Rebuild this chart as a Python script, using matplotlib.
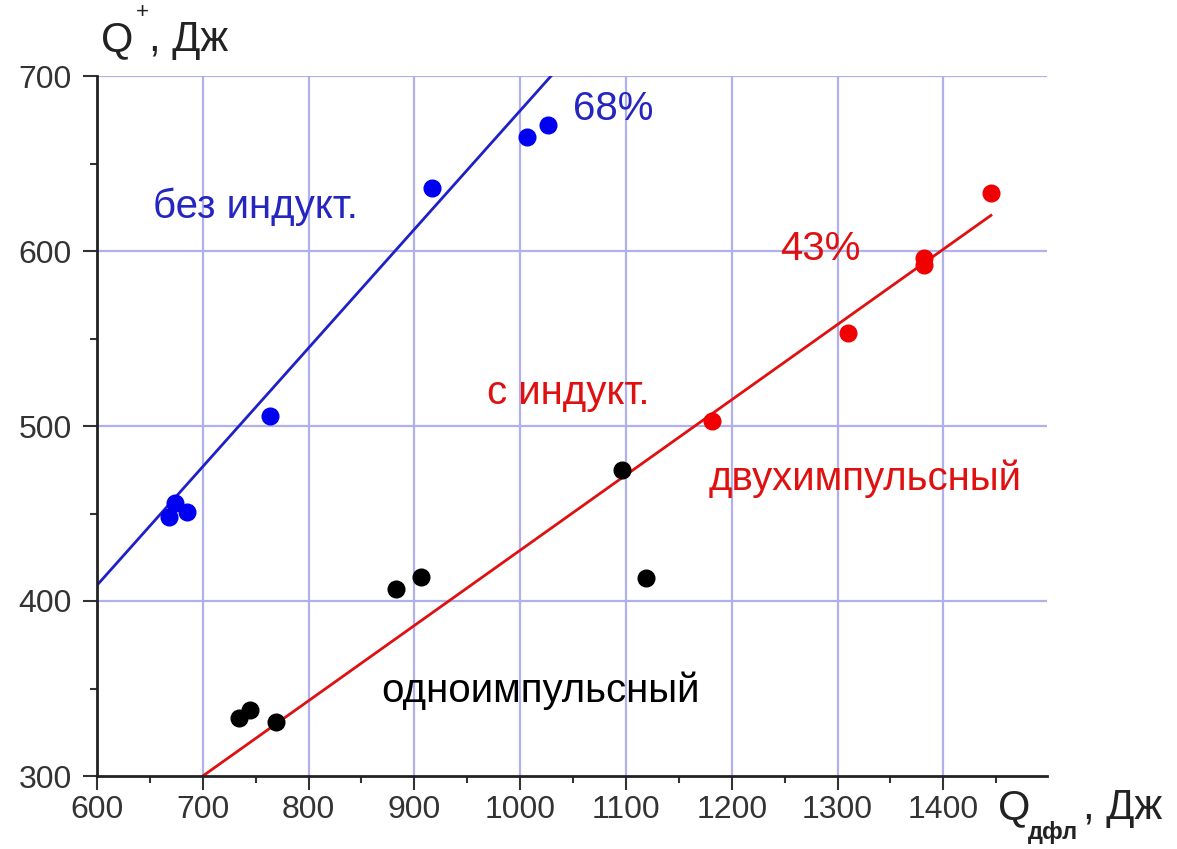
import numpy as np
import matplotlib
matplotlib.use("Agg")
import matplotlib.pyplot as plt
from matplotlib.ticker import MultipleLocator

plt.rcParams['font.family'] = ['Liberation Sans', 'DejaVu Sans']

# data
blue_x = [668, 674, 685, 764, 917, 1006, 1026]
blue_y = [448, 456, 451, 506, 636, 665, 672]
red_x = [1181, 1310, 1382, 1382, 1445]
red_y = [503, 553, 596, 592, 633]
black_x = [734, 745, 769, 883, 906, 1096, 1119]
black_y = [333, 338, 331, 407, 414, 475, 413]

# fitted lines: x range, start y, slope
blue_fit_x = [600, 1029]
blue_fit = (409, 0.678)
red_fit_x = [700, 1445]
red_fit = (300, 0.43)

W, H = 1177, 849
fig = plt.figure(figsize=(W / 100, H / 100), dpi=100)
ax = fig.add_axes([97 / W, 1 - 776 / H, 950 / W, 700 / H])


def px(x, y):
    # figure fraction from pixel position
    return x / W, 1 - y / H


grid_c = "#b0b0ec"
for v in [700, 800, 900, 1000, 1100, 1200, 1300, 1400]:
    ax.axvline(v, color=grid_c, lw=1.6, zorder=0)
for v in [400, 500, 600, 700]:
    ax.axhline(v, color=grid_c, lw=1.6, zorder=0)

bx = np.array(blue_fit_x)
ax.plot(bx, blue_fit[0] + blue_fit[1] * (bx - bx[0]), color="#2020c8", lw=2, zorder=2)
rx = np.array(red_fit_x)
ax.plot(rx, red_fit[0] + red_fit[1] * (rx - rx[0]), color="#e01010", lw=2, zorder=2)

ax.plot(blue_x, blue_y, "o", color="#0000f0", ms=12, zorder=3)
ax.plot(red_x, red_y, "o", color="#f00000", ms=12, zorder=3)
ax.plot(black_x, black_y, "o", color="black", ms=12, zorder=3)

fs = 29
ax.text(1088, 681, "68%", color="#2525c0", fontsize=fs, ha="center", va="center")
ax.text(750, 625, "без индукт.", color="#2525c0", fontsize=fs, ha="center", va="center")
ax.text(1284, 601, "43%", color="#e01010", fontsize=fs, ha="center", va="center")
ax.text(1045, 519, "с индукт.", color="#e01010", fontsize=fs, ha="center", va="center")
ax.text(1326, 470, "двухимпульсный", color="#e01010", fontsize=fs, ha="center", va="center")
ax.text(1019, 349, "одноимпульсный", color="black", fontsize=fs, ha="center", va="center")

ax.set_xlim(600, 1498)
ax.set_ylim(300, 700)
ax.set_xticks([600, 700, 800, 900, 1000, 1100, 1200, 1300, 1400])
ax.set_yticks([300, 400, 500, 600, 700])
ax.xaxis.set_minor_locator(MultipleLocator(50))
ax.yaxis.set_minor_locator(MultipleLocator(50))
ax.tick_params(which="major", length=10, width=1.5, labelsize=23, direction="out",
               colors="#333333")
ax.tick_params(axis="y", which="major", pad=8)
ax.tick_params(axis="x", which="major", pad=4)
ax.tick_params(which="minor", length=5, width=1.5, direction="out", colors="#333333")
for s in ["top", "right"]:
    ax.spines[s].set_visible(False)
for s in ["left", "bottom"]:
    ax.spines[s].set_linewidth(2)
    ax.spines[s].set_color("#222222")

lc = "#222222"
# y axis label: Q+, Дж
fig.text(*px(101, 40), "Q", fontsize=30, ha="left", va="center", color=lc)
fig.text(*px(136, 13), "+", fontsize=16, ha="left", va="center", color=lc)
fig.text(*px(149, 40), ", Дж", fontsize=30, ha="left", va="center", color=lc)

# x axis label: Qдфл, Дж
fig.text(*px(998, 808), "Q", fontsize=30, ha="left", va="center", color=lc)
fig.text(*px(1028, 832), "дфл", fontsize=17, ha="left", va="center", color=lc,
         fontweight="bold")
fig.text(*px(1083, 808), ", Дж", fontsize=30, ha="left", va="center", color=lc)

fig.savefig("out.png", dpi=100)
